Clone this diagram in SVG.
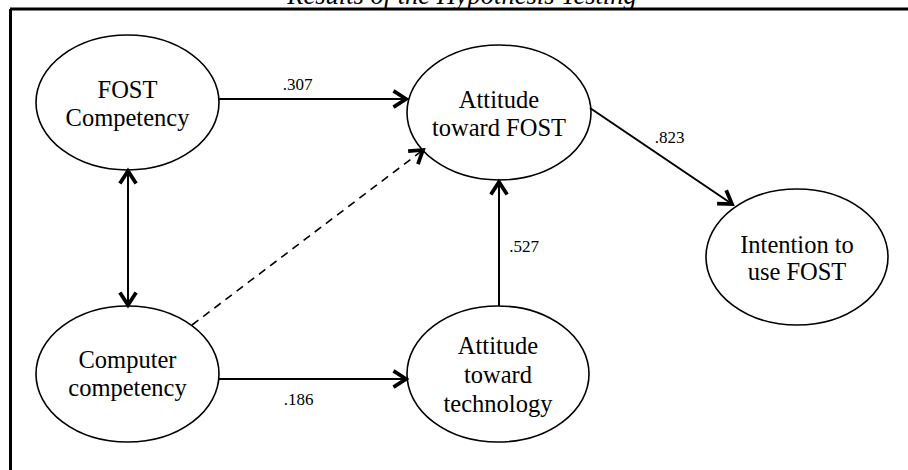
<svg xmlns="http://www.w3.org/2000/svg" width="908" height="470" viewBox="0 0 908 470">
<style>
.node{fill:#fff;stroke:#000;stroke-width:1.6}
.lbl{font-family:"Liberation Serif",serif;font-size:24.5px;fill:#000;text-anchor:middle}
.w{font-family:"Liberation Serif",serif;font-size:17px;fill:#000;text-anchor:middle}
.c{fill:none;stroke:#000;stroke-width:2}
.d{stroke-dasharray:8 6;stroke-width:1.6}
</style>
<defs>
<marker id="ah" markerUnits="userSpaceOnUse" markerWidth="20" markerHeight="20" viewBox="-12 -8 14 16" refX="0" refY="0" orient="auto-start-reverse">
<path d="M-10,-6.5 L0,0 L-10,6.5" fill="none" stroke="#000" stroke-width="3" stroke-linejoin="miter"/>
</marker>
</defs>
<rect width="908" height="470" fill="#fff"/>
<text x="462" y="4" font-family="Liberation Serif,serif" font-size="26.5" font-style="italic" text-anchor="middle">Results of the Hypothesis Testing</text>
<line x1="10" y1="9" x2="908" y2="9" stroke="#000" stroke-width="3"/>
<line x1="10.5" y1="9" x2="10.5" y2="470" stroke="#000" stroke-width="3"/>
<g id="n-fost-comp">
<ellipse class="node" cx="127.5" cy="102.5" rx="91.5" ry="67.5"/>
<text class="lbl" x="127.5" y="98">FOST</text>
<text class="lbl" x="127.5" y="126">Competency</text>
</g>
<g id="n-att-fost">
<ellipse class="node" cx="499" cy="112.5" rx="92" ry="67.5"/>
<text class="lbl" x="499" y="108">Attitude</text>
<text class="lbl" x="499" y="136">toward FOST</text>
</g>
<g id="n-intention">
<ellipse class="node" cx="797" cy="257" rx="91" ry="68"/>
<text class="lbl" x="797" y="253">Intention to</text>
<text class="lbl" x="797" y="280">use FOST</text>
</g>
<g id="n-comp-comp">
<ellipse class="node" cx="127.5" cy="374" rx="91.5" ry="68"/>
<text class="lbl" x="127.5" y="368">Computer</text>
<text class="lbl" x="127.5" y="396">competency</text>
</g>
<g id="n-att-tech">
<ellipse class="node" cx="498" cy="374" rx="91" ry="68"/>
<text class="lbl" x="498" y="354">Attitude</text>
<text class="lbl" x="498" y="383">toward</text>
<text class="lbl" x="498" y="412">technology</text>
</g>
<g id="connectors">
<line class="c" x1="219" y1="99" x2="406" y2="99" marker-end="url(#ah)"/>
<line class="c" x1="128" y1="171" x2="128" y2="305" marker-start="url(#ah)" marker-end="url(#ah)"/>
<line class="c d" x1="192" y1="325" x2="423" y2="150" marker-end="url(#ah)"/>
<line class="c" x1="590" y1="108" x2="732" y2="204" marker-end="url(#ah)"/>
<line class="c" x1="499" y1="306" x2="499" y2="182" marker-end="url(#ah)"/>
<line class="c" x1="219" y1="379" x2="406" y2="379" marker-end="url(#ah)"/>
<text class="w" x="297.5" y="90">.307</text>
<text class="w" x="669.5" y="143">.823</text>
<text class="w" x="524" y="252">.527</text>
<text class="w" x="298.5" y="405">.186</text>
</g>
</svg>
